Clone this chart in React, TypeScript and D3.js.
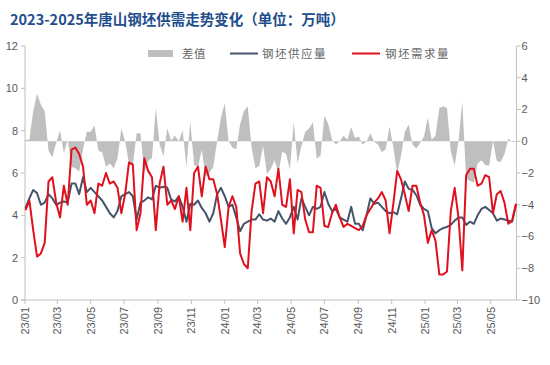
import React from 'react';
import * as d3 from 'd3';

// weekly series (万吨), first week 2023-01-02
const supply = [
  4.35, 4.8, 5.2, 5.05, 4.5, 4.6, 5.0, 4.8, 4.5, 4.6, 4.65, 4.6, 5.5, 5.5, 5.0, 5.8, 5.1, 5.3, 5.1, 4.9,
  4.7, 4.4, 4.1, 3.9, 4.2, 4.9, 5.0, 5.1, 4.9, 3.8, 4.6, 4.7, 4.85, 4.75, 5.4, 5.3, 5.35, 5.3, 4.75, 4.65,
  4.9, 4.4, 3.7, 4.55, 4.5, 4.7, 4.35, 4.1, 3.7, 4.1, 5.0, 5.3, 4.9, 4.4, 4.5, 3.9, 3.25, 3.6, 3.7, 3.8,
  3.8, 4.05, 3.8, 3.75, 3.85, 3.7, 4.2, 3.85, 3.6, 3.9, 4.4, 3.8, 4.8, 4.4, 4.0, 4.4, 4.3, 4.4, 5.1, 4.55,
  4.2, 4.3, 3.9, 3.8, 3.7, 4.4, 3.6, 3.6, 3.3, 4.0, 4.8, 4.55, 4.6, 4.4, 4.2, 4.1, 4.15, 4.05, 4.8, 5.6,
  5.25, 5.2, 4.95, 4.5, 4.3, 4.2, 3.4, 3.15, 3.3, 3.4, 3.45, 3.55, 3.75, 3.9, 3.9, 3.55, 3.7, 3.6, 4.0, 4.3,
  4.4, 4.25, 4.1, 3.75, 3.85, 3.8, 3.75, 3.7, 4.5,
];
const demand = [
  4.25, 4.7, 3.3, 2.05, 2.2, 2.7, 5.6, 5.8, 4.6, 3.9, 5.4, 4.5, 7.1, 7.2, 6.9, 6.3, 4.5, 4.7, 4.1, 5.5,
  5.4, 6.0, 5.5, 5.6, 5.3, 4.1, 5.0, 6.5, 6.4, 3.3, 4.1, 6.7, 6.1, 5.8, 3.3, 5.5, 6.3, 4.5, 4.7, 4.3,
  4.9, 3.7, 5.3, 3.3, 6.0, 6.3, 4.9, 6.3, 5.7, 5.7, 5.0, 3.8, 2.5, 4.4, 4.9, 4.4, 2.2, 1.7, 1.5, 4.2,
  5.5, 5.6, 4.1, 5.8, 5.6, 4.9, 6.2, 4.5, 4.4, 5.7, 3.15, 5.2, 5.1, 3.8, 3.2, 3.2, 5.4, 5.3, 3.5, 3.45,
  4.1, 4.5, 3.9, 3.45, 3.6, 3.5, 3.4, 3.3, 3.5, 4.0, 4.3, 4.6, 4.8, 5.1, 4.7, 3.15, 4.55, 6.1, 5.7, 5.0,
  4.2, 5.4, 5.4, 4.6, 4.0, 2.7, 3.3, 2.8, 1.2, 1.2, 1.35, 4.2, 5.3, 3.9, 1.4, 5.9, 6.2, 6.2, 5.4, 5.5,
  5.9, 5.8, 4.1, 5.0, 5.15, 4.6, 3.6, 3.75, 4.55,
];
const leftTicks = [0, 2, 4, 6, 8, 10, 12];
const rightTicks = [-10, -8, -6, -4, -2, 0, 2, 4, 6];
const title = '2023-2025年唐山钢坯供需走势变化（单位：万吨）';
const legendLabels = ['差值', '钢坯供应量', '钢坯需求量'];

const start = new Date(2023, 0, 2);
const dates = supply.map((_, i) => d3.timeDay.offset(start, 7 * i));
const diff = supply.map((s, i) => s - demand[i]);

const W = 550, H = 365;
const left = 25, right = 516.5, top = 46, bottom = 300;
const numFont = '"Liberation Sans", Arial, sans-serif';
const cjkFont = '"Noto Sans CJK SC", sans-serif';

export default function App() {
  const x = d3.scaleTime().domain([new Date(2023, 0, 1), d3.timeDay.offset(dates[dates.length - 1], 1)]).range([left, right]);
  const yL = d3.scaleLinear().domain([0, 12]).range([bottom, top]);
  const yR = d3.scaleLinear().domain([-10, 6]).range([bottom, top]);
  const xTicks = d3.timeMonth.every(2)!.range(new Date(2023, 0, 1), new Date(2025, 5, 1));
  const fmt = d3.timeFormat('%y/%m');

  const area = d3.area<number>().x((_, i) => x(dates[i])).y0(yR(0)).y1((d) => yR(d));
  const line = d3.line<number>().x((_, i) => x(dates[i])).y((d) => yL(d));

  const axisColor = '#bfbfbf';
  const textColor = '#595959';

  return (
    <svg width={W} height={H} style={{ position: 'absolute', left: 0, top: 0, background: '#fff' }}>
      <text x={10} y={25} fontFamily={cjkFont} fontWeight="bold" fontSize={14.5} fill="#1f4e8c">{title}</text>

      {/* legend */}
      <rect x={148} y={50} width={25} height={7} fill="#bfbfbf" />
      <text x={182} y={57.5} fontFamily={cjkFont} fontSize={11.5} fill="#666" letterSpacing={0.5}>{legendLabels[0]}</text>
      <line x1={230} x2={258} y1={53.5} y2={53.5} stroke="#44546a" strokeWidth={2} />
      <text x={262} y={57.5} fontFamily={cjkFont} fontSize={11.5} fill="#666" letterSpacing={1.5}>{legendLabels[1]}</text>
      <line x1={352} x2={380} y1={53.5} y2={53.5} stroke="#e0101e" strokeWidth={2} />
      <text x={385} y={57.5} fontFamily={cjkFont} fontSize={11.5} fill="#666" letterSpacing={1.5}>{legendLabels[2]}</text>

      {/* diff area */}
      <path d={area(diff) || ''} fill="#bfbfbf" />

      {/* axes */}
      <line x1={left} x2={left} y1={top} y2={bottom} stroke={axisColor} />
      <line x1={right} x2={right} y1={top} y2={bottom} stroke={axisColor} />
      <line x1={left - 4} x2={right} y1={bottom} y2={bottom} stroke={axisColor} />
      {leftTicks.map((t) => (
        <g key={'l' + t}>
          <line x1={left - 4} x2={left} y1={yL(t)} y2={yL(t)} stroke={axisColor} />
          <text x={left - 7} y={yL(t)} dy="0.35em" textAnchor="end" fontFamily={numFont} fontSize={11} fill={textColor}>{t}</text>
        </g>
      ))}
      {rightTicks.map((t) => (
        <g key={'r' + t}>
          <line x1={right} x2={right + 4} y1={yR(t)} y2={yR(t)} stroke={axisColor} />
          <text x={right + 5} y={yR(t)} dy="0.35em" textAnchor="start" fontFamily={numFont} fontSize={11} fill={textColor}>{d3.format('')(t)}</text>
        </g>
      ))}
      {xTicks.map((d) => (
        <g key={'x' + d.getTime()}>
          <line x1={x(d)} x2={x(d)} y1={bottom} y2={bottom + 4} stroke={axisColor} />
          <text transform={`translate(${x(d)},${bottom + 7}) rotate(-90)`} dy="0.35em" textAnchor="end" fontFamily={numFont} fontSize={11} fill={textColor}>{fmt(d)}</text>
        </g>
      ))}

      {/* lines */}
      <path d={line(supply) || ''} fill="none" stroke="#44546a" strokeWidth={2} strokeLinejoin="round" />
      <path d={line(demand) || ''} fill="none" stroke="#e0101e" strokeWidth={2} strokeLinejoin="round" />
    </svg>
  );
}
